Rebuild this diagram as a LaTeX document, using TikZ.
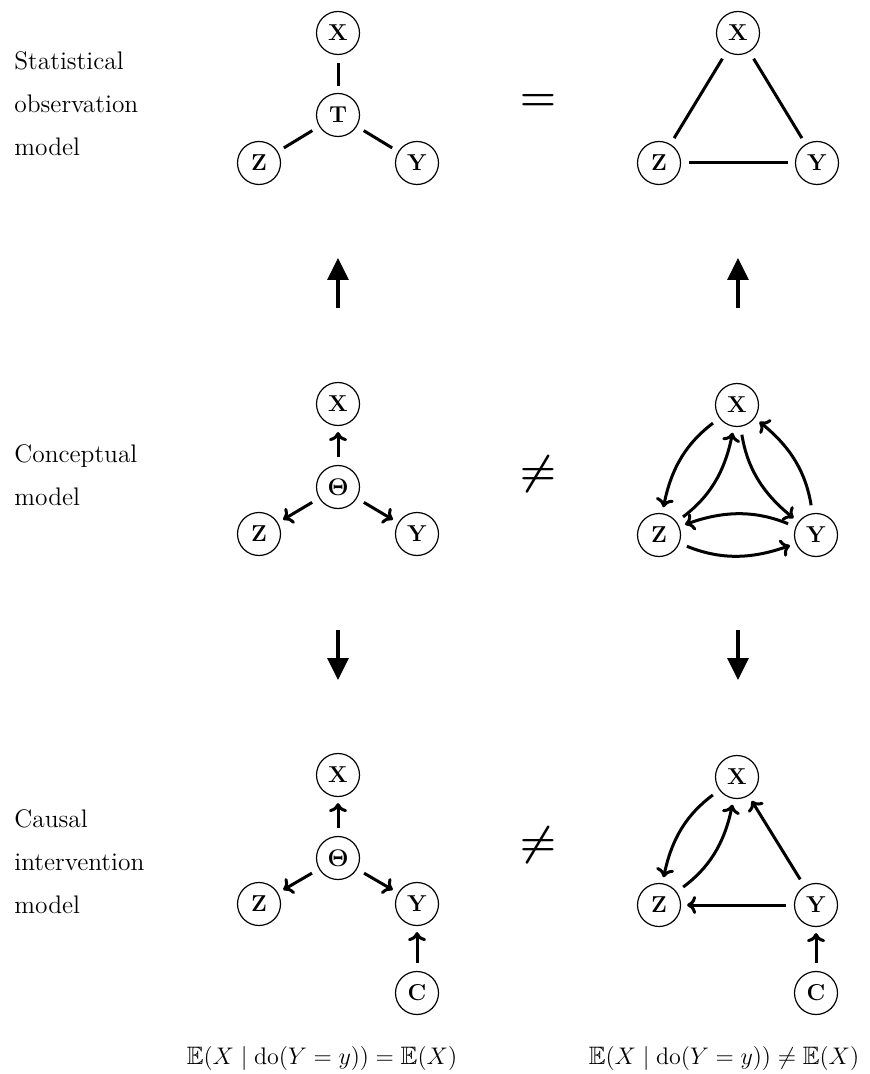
\documentclass[tikz,border=0pt]{standalone}
\usepackage{amsmath,amssymb}
\usetikzlibrary{arrows.meta,bending}
\begin{document}
\begin{tikzpicture}[x=0.5pt,y=-0.5pt,
  v/.style={circle,draw,line width=0.6pt,minimum size=21.5pt,inner sep=0pt,font=\fontsize{11.5}{12}\selectfont\bfseries},
  e/.style={line width=1.5pt,shorten <=4pt,shorten >=3.5pt},
  a/.style={e,shorten >=3pt,-{To[length=4.5pt,width=9pt]}},
  big/.style={line width=1.7pt,-{Triangle[length=11pt,width=10.5pt]}},
  lab/.style={anchor=west,align=left,inner sep=0pt,font=\fontsize{12.7}{21.5}\selectfont},
  sym/.style={inner sep=0pt,font=\fontsize{22.5}{24}\selectfont\boldmath},
  fm/.style={inner sep=0pt,font=\fontsize{12.6}{14}\selectfont}]
\useasboundingbox (0,0) rectangle (869,1074);
% labels
\node[lab] (l1) at (14,104) {Statistical\\observation\\model};
\node[lab] (l2) at (14,475) {Conceptual\\model};
\node[lab] (l3) at (14,862) {Causal\\intervention\\model};
% top row
\node[v] (tx1) at (338,33) {X};
\node[v] (tt) at (338,115) {T};
\node[v] (tz1) at (259,163) {Z};
\node[v] (ty1) at (417,163) {Y};
\node[v] (tx2) at (738,33) {X};
\node[v] (tz2) at (659,163) {Z};
\node[v] (ty2) at (817,163) {Y};
\node[sym] (s1) at (538,102) {$=$};
\draw[e] (tx1) -- (tt);
\draw[e] (tt) -- (tz1);
\draw[e] (tt) -- (ty1);
\draw[e] (tx2) -- (tz2);
\draw[e] (tx2) -- (ty2);
\draw[e] (tz2) -- (ty2);
% big arrows up
\coordinate (u1s) at (338,308); \coordinate (u1e) at (338,258);
\coordinate (u2s) at (738,308); \coordinate (u2e) at (738,258);
\draw[big] (u1s) -- (u1e);
\draw[big] (u2s) -- (u2e);
% middle row
\node[v] (mx1) at (338,404) {X};
\node[v] (mth) at (338,487) {$\mathbf{\Theta}$};
\node[v] (mz1) at (259,534) {Z};
\node[v] (my1) at (417,534) {Y};
\node[v] (mx2) at (737,405) {X};
\node[v] (mz2) at (659,535) {Z};
\node[v] (my2) at (816,535) {Y};
\node[sym] (s2) at (538,474) {$\neq$};
\draw[a] (mth) -- (mx1);
\draw[a] (mth) -- (mz1);
\draw[a] (mth) -- (my1);
\draw[a] (mx2) to[bend right=22] (mz2);
\draw[a] (mz2) to[bend right=22] (mx2);
\draw[a] (mx2) to[bend right=22] (my2);
\draw[a] (my2) to[bend right=22] (mx2);
\draw[a] (my2) to[bend right=22] (mz2);
\draw[a] (mz2) to[bend right=22] (my2);
% big arrows down
\coordinate (d1s) at (338,630); \coordinate (d1e) at (338,680);
\coordinate (d2s) at (738,630); \coordinate (d2e) at (738,680);
\draw[big] (d1s) -- (d1e);
\draw[big] (d2s) -- (d2e);
% bottom row
\node[v] (bx1) at (338,775) {X};
\node[v] (bth) at (338,858) {$\mathbf{\Theta}$};
\node[v] (bz1) at (259,904) {Z};
\node[v] (by1) at (417,904) {Y};
\node[v] (bc1) at (417,993) {C};
\node[v] (bx2) at (737,777) {X};
\node[v] (bz2) at (659,905) {Z};
\node[v] (by2) at (816,905) {Y};
\node[v] (bc2) at (816,993) {C};
\node[sym] (s3) at (538,845) {$\neq$};
\draw[a] (bth) -- (bx1);
\draw[a] (bth) -- (bz1);
\draw[a] (bth) -- (by1);
\draw[a] (bc1) -- (by1);
\draw[a] (bx2) to[bend right=22] (bz2);
\draw[a] (bz2) to[bend right=22] (bx2);
\draw[a] (by2) -- (bx2);
\draw[a] (by2) -- (bz2);
\draw[a] (bc2) -- (by2);
% formulas
\node[fm] (f1) at (322,1058) {$\mathbb{E}(X \mid \mathrm{do}(Y=y)) = \mathbb{E}(X)$};
\node[fm] (f2) at (724,1058) {$\mathbb{E}(X \mid \mathrm{do}(Y=y)) \neq \mathbb{E}(X)$};
\end{tikzpicture}
\end{document}
